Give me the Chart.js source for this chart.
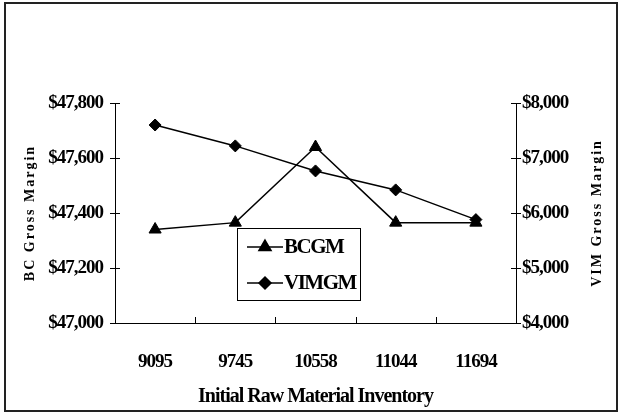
<!DOCTYPE html>
<html>
<head>
<title>BC and VIM Gross Margin</title>
<script src="https://cdn.jsdelivr.net/npm/chart.js@4.4.0/dist/chart.umd.min.js"></script>
<style>
  body { margin: 0; background: #fff; }
  #wrap { width: 622px; height: 415px; }
</style>
</head>
<body>
<div id="wrap"><canvas id="chart" width="622" height="415"></canvas></div>
<script>
const inventory = ['9095', '9745', '10558', '11044', '11694'];
const bcGM = [47340, 47365, 47640, 47365, 47365];
const vimGM = [7600, 7220, 6765, 6420, 5880];
const bcRange = [47000, 47800, 200];
const vimRange = [4000, 8000, 1000];

const serif = '"Liberation Serif", "Times New Roman", serif';
const money = v => '$' + Number(v).toLocaleString('en-US');

// frame, inward ticks, axis titles and the boxed legend
const decor = {
  id: 'decor',
  beforeDraw(chart) {
    chart.ctx.letterSpacing = '-1px';
  },
  afterDraw(chart) {
    const ctx = chart.ctx;
    const a = chart.chartArea;
    ctx.save();
    ctx.strokeStyle = '#222';
    ctx.lineWidth = 2;
    ctx.strokeRect(5, 3, 612, 408);

    ctx.lineWidth = 1;
    ctx.strokeStyle = '#000';
    ctx.beginPath();
    chart.scales.y.ticks.forEach(t => {
      const py = Math.round(chart.scales.y.getPixelForValue(t.value)) + 0.5;
      ctx.moveTo(a.left, py); ctx.lineTo(a.left + 5, py);
    });
    chart.scales.y1.ticks.forEach(t => {
      const py = Math.round(chart.scales.y1.getPixelForValue(t.value)) + 0.5;
      ctx.moveTo(a.right - 5, py); ctx.lineTo(a.right, py);
    });
    const step = (a.right - a.left) / inventory.length;
    for (let i = 0; i <= inventory.length; i++) {
      const px = Math.round(a.left + i * step) + 0.5;
      ctx.moveTo(px, a.bottom); ctx.lineTo(px, a.bottom - 6);
    }
    ctx.stroke();

    ctx.fillStyle = '#000';
    ctx.textAlign = 'center';
    ctx.textBaseline = 'middle';
    const midY = (a.top + a.bottom) / 2;
    ctx.font = 'bold 14px ' + serif;
    ctx.letterSpacing = '2px';
    ctx.save();
    ctx.translate(30, midY); ctx.rotate(-Math.PI / 2);
    ctx.fillText('BC Gross Margin', 0, 0);
    ctx.restore();
    ctx.save();
    ctx.translate(597, midY); ctx.rotate(-Math.PI / 2);
    ctx.fillText('VIM Gross Margin', 0, 0);
    ctx.restore();

    ctx.letterSpacing = '-1px';
    ctx.font = 'bold 20px ' + serif;
    ctx.fillText('Initial Raw Material Inventory', (a.left + a.right) / 2, 397);

    // legend box
    const lx = 237, ly = 228, lw = 123, lh = 72;
    ctx.strokeStyle = '#000';
    ctx.lineWidth = 1;
    ctx.strokeRect(lx + 0.5, ly + 0.5, lw, lh);
    ctx.textAlign = 'left';
    ctx.font = 'bold 21px ' + serif;
    ctx.letterSpacing = '-1.5px';
    chart.data.datasets.forEach((ds, i) => {
      const ry = ly + 19 + i * 36;
      ctx.lineWidth = 1.5;
      ctx.beginPath();
      ctx.moveTo(lx + 10, ry); ctx.lineTo(lx + 46, ry);
      ctx.stroke();
      ctx.fillStyle = '#000';
      Chart.helpers.drawPoint(ctx, {
        pointStyle: ds.pointStyle, radius: ds.pointRadius, borderWidth: 1, rotation: 0
      }, lx + 28, ry);
      ctx.fillText(ds.label, lx + 47, ry + 1);
    });
    ctx.restore();
  }
};

const tickFont = { family: serif, size: 19, weight: 'bold' };

new Chart(document.getElementById('chart'), {
  type: 'line',
  data: {
    labels: inventory,
    datasets: [{
      label: 'BCGM',
      data: bcGM,
      yAxisID: 'y',
      borderColor: '#000',
      backgroundColor: '#000',
      borderWidth: 1.5,
      pointStyle: 'triangle',
      pointRadius: 7,
      pointBorderWidth: 1,
      tension: 0
    }, {
      label: 'VIMGM',
      data: vimGM,
      yAxisID: 'y1',
      borderColor: '#000',
      backgroundColor: '#000',
      borderWidth: 1.5,
      pointStyle: 'rectRot',
      pointRadius: 6,
      pointBorderWidth: 1,
      tension: 0
    }]
  },
  options: {
    responsive: false,
    animation: false,
    devicePixelRatio: 1,
    layout: { padding: { top: 103 } },
    plugins: { legend: { display: false }, tooltip: { enabled: false } },
    scales: {
      x: {
        offset: true,
        grid: { display: false },
        border: { color: '#000', width: 1 },
        ticks: { color: '#000', padding: 20, font: tickFont },
        afterFit: s => { s.height = 92; }
      },
      y: {
        position: 'left',
        min: bcRange[0], max: bcRange[1],
        grid: { drawOnChartArea: false, tickLength: 5, color: '#000' },
        border: { color: '#000', width: 1 },
        ticks: { stepSize: bcRange[2], callback: money, color: '#000', padding: 7, font: tickFont },
        afterFit: s => { s.width = 115; }
      },
      y1: {
        position: 'right',
        min: vimRange[0], max: vimRange[1],
        grid: { drawOnChartArea: false, tickLength: 5, color: '#000' },
        border: { color: '#000', width: 1 },
        ticks: { stepSize: vimRange[2], callback: money, color: '#000', padding: 1, font: tickFont },
        afterFit: s => { s.width = 106; }
      }
    }
  },
  plugins: [decor]
});
</script>
</body>
</html>
